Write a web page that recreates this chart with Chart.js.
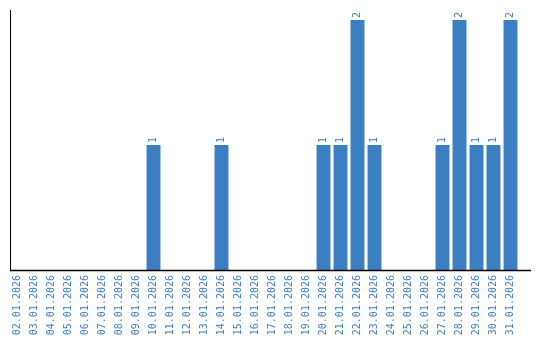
<!DOCTYPE html>
<html lang="en">
<head>
<meta charset="UTF-8">
<title>Daily counts</title>
<script src="https://cdn.jsdelivr.net/npm/chart.js"></script>
<style>
    html, body { margin: 0; padding: 0; background: #fff; }
    #wrap { width: 540px; height: 340px; position: relative; }
</style>
</head>
<body>
<div id="wrap"><canvas id="myChart"></canvas></div>
<script>
    const dates = [
        '02.01.2026', '03.01.2026', '04.01.2026', '05.01.2026', '06.01.2026',
        '07.01.2026', '08.01.2026', '09.01.2026', '10.01.2026', '11.01.2026',
        '12.01.2026', '13.01.2026', '14.01.2026', '15.01.2026', '16.01.2026',
        '17.01.2026', '18.01.2026', '19.01.2026', '20.01.2026', '21.01.2026',
        '22.01.2026', '23.01.2026', '24.01.2026', '25.01.2026', '26.01.2026',
        '27.01.2026', '28.01.2026', '29.01.2026', '30.01.2026', '31.01.2026'
    ];
    const counts = [
        0, 0, 0, 0, 0, 0, 0, 0, 1, 0,
        0, 0, 1, 0, 0, 0, 0, 0, 1, 1,
        2, 1, 0, 0, 0, 1, 2, 1, 1, 2
    ];

    const blue = '#3b7fc2';
    const fontFamily = "'DejaVu Sans Mono', 'Liberation Mono', monospace";

    // value labels above bars, rotated like the axis labels
    const valueLabels = {
        id: 'valueLabels',
        afterDatasetsDraw(chart) {
            const ctx = chart.ctx;
            const meta = chart.getDatasetMeta(0);
            ctx.save();
            ctx.fillStyle = blue;
            ctx.font = '10px ' + fontFamily;
            meta.data.forEach((bar, i) => {
                if (!counts[i]) return;
                ctx.save();
                ctx.translate(bar.x, bar.y - 2);
                ctx.rotate(-Math.PI / 2);
                ctx.textAlign = 'left';
                ctx.textBaseline = 'middle';
                ctx.fillText(String(counts[i]), 0, 0);
                ctx.restore();
            });
            ctx.restore();
        }
    };

    // both axis lines; the x one runs a bit past the last bar
    const axisLines = {
        id: 'axisLines',
        afterDraw(chart) {
            const a = chart.chartArea;
            const ctx = chart.ctx;
            ctx.save();
            ctx.strokeStyle = '#000';
            ctx.lineWidth = 1;
            ctx.beginPath();
            ctx.moveTo(a.left + 1.5, a.top);
            ctx.lineTo(a.left + 1.5, a.bottom);
            ctx.stroke();
            ctx.lineWidth = 1.5;
            ctx.beginPath();
            ctx.moveTo(a.left + 1, a.bottom + 0.5);
            ctx.lineTo(a.right + 12, a.bottom + 0.5);
            ctx.stroke();
            ctx.restore();
        }
    };

    new Chart(document.getElementById('myChart'), {
        type: 'bar',
        data: {
            labels: dates,
            datasets: [{
                data: counts,
                backgroundColor: blue,
                borderWidth: 0,
                barPercentage: 0.82,
                categoryPercentage: 1
            }]
        },
        options: {
            responsive: true,
            maintainAspectRatio: false,
            animation: false,
            layout: { padding: { left: 0, right: 21, top: 10, bottom: 0 } },
            plugins: { legend: { display: false }, tooltip: { enabled: false } },
            scales: {
                x: {
                    grid: { display: false, drawTicks: false },
                    border: { display: false },
                    ticks: {
                        color: blue,
                        font: { size: 10, family: fontFamily },
                        minRotation: 90,
                        maxRotation: 90,
                        autoSkip: false,
                        padding: 5
                    },
                    afterFit(scale) { scale.height = 70; }
                },
                y: {
                    min: 0,
                    max: 2.08,
                    grid: { display: false, drawTicks: false },
                    border: { display: false },
                    ticks: { display: false },
                    afterFit(scale) { scale.width = 9; }
                }
            }
        },
        plugins: [valueLabels, axisLines]
    });
</script>
</body>
</html>
